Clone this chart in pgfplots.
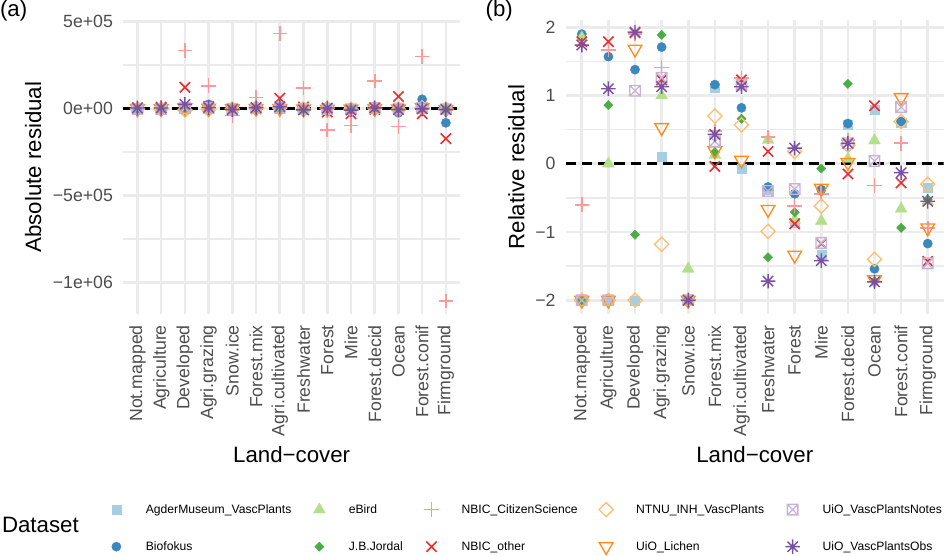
\documentclass[border=0pt]{standalone}
\usepackage{fontspec}
\setmainfont{Liberation Sans}
\usepackage{pgfplots}
\usepackage{pgfplotstable}
\pgfplotsset{compat=1.18}

% Paired palette, one colour per dataset
\definecolor{cAgder}{HTML}{A6CEE3}
\definecolor{baseBio}{HTML}{1F78B4}
\colorlet{cBio}{baseBio!88!white}
\definecolor{ceBird}{HTML}{B2DF8A}
\definecolor{baseJBJ}{HTML}{33A02C}
\colorlet{cJBJ}{baseJBJ!88!white}
\definecolor{cCit}{HTML}{FB9A99}
\definecolor{baseOther}{HTML}{E31A1C}
\colorlet{cOther}{baseOther!90!white}
\definecolor{cNTNU}{HTML}{FDBF6F}
\definecolor{baseLichen}{HTML}{FF7F00}
\colorlet{cLichen}{baseLichen!90!white}
\definecolor{cNotes}{HTML}{CAB2D6}
\definecolor{baseObs}{HTML}{6A3D9A}
\colorlet{cObs}{baseObs!90!white}
\definecolor{gridgrey}{HTML}{EBEBEB}
\definecolor{tickgrey}{HTML}{4D4D4D}

\newcommand\ticksize{\fontsize{17.5}{21}\selectfont}
\newcommand\titlesize{\fontsize{22}{26}\selectfont}
\newcommand\legsize{\fontsize{12}{14}\selectfont}

% eight-armed asterisk and crossed box
\pgfdeclareplotmark{ggast}{%
  \pgfpathmoveto{\pgfqpoint{-\pgfplotmarksize}{0pt}}\pgfpathlineto{\pgfqpoint{\pgfplotmarksize}{0pt}}%
  \pgfpathmoveto{\pgfqpoint{0pt}{-\pgfplotmarksize}}\pgfpathlineto{\pgfqpoint{0pt}{\pgfplotmarksize}}%
  \pgfpathmoveto{\pgfqpoint{-0.7071\pgfplotmarksize}{-0.7071\pgfplotmarksize}}\pgfpathlineto{\pgfqpoint{0.7071\pgfplotmarksize}{0.7071\pgfplotmarksize}}%
  \pgfpathmoveto{\pgfqpoint{-0.7071\pgfplotmarksize}{0.7071\pgfplotmarksize}}\pgfpathlineto{\pgfqpoint{0.7071\pgfplotmarksize}{-0.7071\pgfplotmarksize}}%
  \pgfusepathqstroke}
\pgfdeclareplotmark{ggboxx}{%
  \pgfpathrectangle{\pgfqpoint{-\pgfplotmarksize}{-\pgfplotmarksize}}{\pgfqpoint{2\pgfplotmarksize}{2\pgfplotmarksize}}%
  \pgfpathmoveto{\pgfqpoint{-\pgfplotmarksize}{-\pgfplotmarksize}}\pgfpathlineto{\pgfqpoint{\pgfplotmarksize}{\pgfplotmarksize}}%
  \pgfpathmoveto{\pgfqpoint{-\pgfplotmarksize}{\pgfplotmarksize}}\pgfpathlineto{\pgfqpoint{\pgfplotmarksize}{-\pgfplotmarksize}}%
  \pgfusepathqstroke}

\pgfplotsset{
  sAgder/.style={only marks, mark=square*, mark size=4.5pt, line width=0.3pt, color=cAgder},
  sBio/.style={only marks, mark=*, mark size=4.6pt, line width=0.3pt, color=cBio},
  seBird/.style={only marks, mark=triangle*, mark size=6.8pt, line width=0.3pt, color=ceBird},
  sJBJ/.style={only marks, mark=square*, mark size=3.25pt, line width=0.3pt, mark options={rotate=45}, color=cJBJ},
  sCit/.style={only marks, mark=+, mark size=7.2pt, line width=1.6pt, color=cCit},
  sOther/.style={only marks, mark=x, mark size=7.2pt, line width=1.6pt, color=cOther},
  sNTNU/.style={only marks, mark=square, mark size=4.95pt, line width=1.3pt, mark options={rotate=45}, color=cNTNU},
  sLichen/.style={only marks, mark=triangle, mark size=7.8pt, line width=1.3pt, mark options={rotate=180}, color=cLichen},
  sNotes/.style={only marks, mark=ggboxx, mark size=5.2pt, line width=1.3pt, color=cNotes},
  sObs/.style={only marks, mark=ggast, mark size=7.2pt, line width=1.4pt, color=cObs},
  % legend key: the mark alone, in a fixed 16pt cell
  legmark/.style={legend image code/.code={\path (-8pt,-8pt) (8pt,8pt);\draw[##1] plot coordinates {(0pt,0pt)};}},
  ggpanel/.style={
    scale only axis, anchor=south west,
    width=#1, height=290pt,
    xmin=0.4, xmax=14.6,
    axis line style={draw=none},
    major tick length=0pt, minor tick length=0pt,
    tick style={draw=none},
    xtick={1,...,14},
    xticklabels={Not.mapped,Agriculture,Developed,Agri.grazing,Snow.ice,Forest.mix,Agri.cultivated,Freshwater,Forest,Mire,Forest.decid,Ocean,Forest.conif,Firmground},
    xmajorgrids, ymajorgrids, yminorgrids,
    major grid style={draw=gridgrey, line width=2.6pt},
    minor grid style={draw=gridgrey, line width=1.3pt},
    scaled y ticks=false,
    tick label style={font=\ticksize, text=tickgrey},
    x tick label style={rotate=90, anchor=east, inner sep=0pt},
    y tick label style={anchor=east, inner sep=0pt},
    xticklabel shift=11pt, yticklabel shift=10pt,
    xlabel={Land−cover},
    every axis x label/.style={at={(axis description cs:0.5,0)}, anchor=center, yshift=-139pt, font=\titlesize},
  },
}

% relative residuals by land-cover class (x = class index)
\pgfplotstableread{
x  Agder  Bio    eBird  JBJ    Cit    Other  NTNU   Lichen Notes  Obs
1  -2     1.90   1.85   -2     -0.60  1.79   -2     -2     -2     1.74
2  -2     1.57   0.00   0.86   1.67   1.79   -2     -2     -2     1.10
3  -2     1.38   nan    -1.04  1.90   1.92   -2     1.68   1.07   1.93
4  0.11   1.71   1.00   1.89   1.41   1.23   -1.18  0.53   1.26   1.13
5  -2     -2     -1.54  -2     -2     -2     -2     -2     -2     -2
6  1.12   1.16   0.13   0.17   0.48   -0.04  0.70   0.19   0.33   0.43
7  -0.07  0.82   nan    0.66   1.26   1.23   0.57   0.05   1.16   1.13
8  -0.38  -0.34  0.35   -1.37  0.39   0.18   -0.99  -0.67  -0.40  -1.72
9  -0.86  -0.44  -0.82  -0.71  -0.62  -0.88  0.18   -1.34  -0.37  0.23
10 -1.33  -0.38  -0.84  -0.07  -0.44  -1.17  -0.62  -0.36  -1.16  -1.42
11 0.57   0.59   0.07   1.17   0.35   -0.15  0.27   0.02   0.30   0.30
12 0.79   -1.54  0.34   -1.72  -0.32  0.85   -1.40  -1.70  0.04   -1.73
13 0.60   0.62   -0.66  -0.94  0.30   -0.28  0.62   0.97   0.83   -0.13
14 -0.35  -1.17  -0.55  -0.52  -0.94  -1.43  -0.30  -0.94  -1.46  -0.55
}\reltab

% absolute residuals by land-cover class
\pgfplotstableread{
x  Agder  Bio    eBird  JBJ    Cit      Other   NTNU   Lichen Notes  Obs
1  -2000  3000   2000   -1000  -5000    4000    -2000  -1000  -2000  3000
2  -2000  4000   0      2000   6000     8000    -3000  -1000  -2000  3000
3  -3000  9000   nan    -2000  333000   122000  -9000  5000   3000   24000
4  1000   24000  3000   4000   131000   12000   -6000  2000   3000   6000
5  -1000  -3000  -4000  -1000  -39000   -8000   -2000  -1000  -2000  -6000
6  2000   8000   1000   1000   63000    -1000   3000   1000   2000   5000
7  -500   9000   nan    3000   431000   59000   4000   500    5000   10000
8  -2000  -4000  2000   -3000  118000   9000    -5000  -2000  -2000  -8000
9  -3000  -6000  -3000  -2000  -124000  -20000  1000   -4000  -2000  3000
10 -4000  -5000  -3000  -500   -98000   -30000  -3000  -2000  -4000  -9000
11 2000   6000   1000   10000  157000   -5000   2000   500    3000   4000
12 3000   -24000 2000   -2000  -104000  69000   -5000  -3000  500    -6000
13 2000   53000  -2000  -3000  300000   -30000  4000   6000   3000   -2000
14 -2000  -82000 -2000  -3000  -1107000 -173000 -3000  -5000  -4000  -6000
}\abstab

\begin{document}
\begin{tikzpicture}

% full-size invisible axis: fixes the picture size and carries the shared legend
\begin{axis}[
  at={(0pt,0pt)}, anchor=south west, scale only axis,
  width=945pt, height=554pt, hide axis,
  xmin=0, xmax=1, ymin=0, ymax=1,
  legend columns=5, legend cell align=left,
  legend style={draw=none, fill=none, at={(0.1218,0.0998)}, anchor=north west,
    inner sep=0pt, outer sep=0pt, font=\legsize, row sep=19pt,
    nodes={inner sep=0pt},
    /tikz/every odd column/.append style={column sep=21pt},
    /tikz/every even column/.append style={column sep=19.5pt}},
]
\addlegendimage{sAgder,legmark}\addlegendentry{AgderMuseum\_VascPlants}
\addlegendimage{seBird,legmark}\addlegendentry{eBird}
\addlegendimage{sCit,legmark}\addlegendentry{NBIC\_CitizenScience}
\addlegendimage{sNTNU,legmark}\addlegendentry{NTNU\_INH\_VascPlants}
\addlegendimage{sNotes,legmark}\addlegendentry{UiO\_VascPlantsNotes}
\addlegendimage{sBio,legmark}\addlegendentry{Biofokus}
\addlegendimage{sJBJ,legmark}\addlegendentry{J.B.Jordal}
\addlegendimage{sOther,legmark}\addlegendentry{NBIC\_other}
\addlegendimage{sLichen,legmark}\addlegendentry{UiO\_Lichen}
\addlegendimage{sObs,legmark}\addlegendentry{UiO\_VascPlantsObs}
\end{axis}

% (a) absolute residuals
\begin{axis}[ggpanel=333pt, at={(130pt,240pt)},
  ymin=-1180000, ymax=506000,
  ytick={-1000000,-500000,0,500000},
  yticklabels={−1e+06,−5e+05,0e+00,5e+05},
  minor ytick={-750000,-250000,250000},
  ylabel={Absolute residual},
  every axis y label/.style={at={(axis description cs:-0.267,0.5)}, rotate=90, anchor=center, font=\titlesize},
]
\addplot[sAgder]  table[x=x,y=Agder]  {\abstab};
\addplot[sBio]    table[x=x,y=Bio]    {\abstab};
\addplot[seBird]  table[x=x,y=eBird]  {\abstab};
\addplot[sJBJ]    table[x=x,y=JBJ]    {\abstab};
\addplot[sCit]    table[x=x,y=Cit]    {\abstab};
\addplot[sOther]  table[x=x,y=Other]  {\abstab};
\addplot[sNTNU]   table[x=x,y=NTNU]   {\abstab};
\addplot[sLichen] table[x=x,y=Lichen] {\abstab};
\addplot[sNotes]  table[x=x,y=Notes]  {\abstab};
\addplot[sObs]    table[x=x,y=Obs]    {\abstab};
\addplot[black, line width=2.8pt, dash pattern=on 10pt off 6pt] coordinates {(0.4,0) (14.6,0)};
\end{axis}

% (b) relative residuals
\begin{axis}[ggpanel=373.5pt, at={(567.5pt,240pt)},
  ymin=-2.2, ymax=2.1,
  ytick={-2,-1,0,1,2},
  yticklabels={−2,−1,0,1,2},
  minor ytick={-1.5,-0.5,0.5,1.5},
  ylabel={Relative residual},
  every axis y label/.style={at={(axis description cs:-0.131,0.5)}, rotate=90, anchor=center, font=\titlesize},
]
\addplot[sAgder]  table[x=x,y=Agder]  {\reltab};
\addplot[sBio]    table[x=x,y=Bio]    {\reltab};
\addplot[seBird]  table[x=x,y=eBird]  {\reltab};
\addplot[sJBJ]    table[x=x,y=JBJ]    {\reltab};
\addplot[sCit]    table[x=x,y=Cit]    {\reltab};
\addplot[sOther]  table[x=x,y=Other]  {\reltab};
\addplot[sNTNU]   table[x=x,y=NTNU]   {\reltab};
\addplot[sLichen] table[x=x,y=Lichen] {\reltab};
\addplot[sNotes]  table[x=x,y=Notes]  {\reltab};
\addplot[sObs]    table[x=x,y=Obs]    {\reltab};
\addplot[black, line width=2.8pt, dash pattern=on 10pt off 6pt] coordinates {(0.4,0) (14.6,0)};
\end{axis}

\node[anchor=west, font=\titlesize, inner sep=0pt] at (8pt,540pt) {(a)};
\node[anchor=west, font=\titlesize, inner sep=0pt] at (488pt,540pt) {(b)};
\node[anchor=west, font=\titlesize, inner sep=0pt] at (10pt,31pt) {Dataset};
\end{tikzpicture}
\end{document}
